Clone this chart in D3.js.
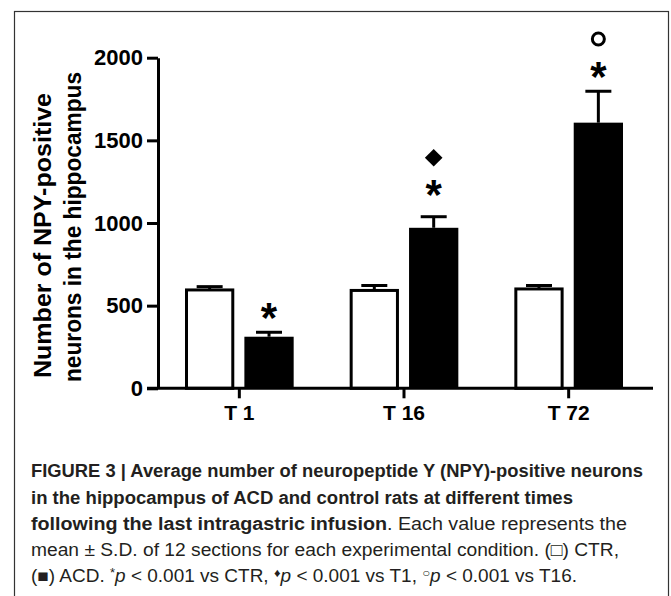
<!DOCTYPE html>
<html>
<head>
<meta charset="utf-8">
<style>
  body { margin: 0; background: #fff; }
  svg { display: block; }
</style>
</head>
<body>

<script src="https://d3js.org/d3.v7.min.js"></script>
<script>

const width = 671;
const height = 596;

// values
const groups = ['T 1', 'T 16', 'T 72'];
const series = ['CTR', 'ACD'];
const ctrMean = [595, 592, 601];
const ctrSD = [20, 30, 21];
const acdMean = [312, 971, 1607];
const acdSD = [27, 67, 190];
const yTicks = [0, 500, 1000, 1500, 2000];

// significance markers above the ACD bars (position in data units)
const marks = [
  {group: 'T 1', symbol: 'star', at: 480},
  {group: 'T 16', symbol: 'star', at: 1221},
  {group: 'T 16', symbol: 'diamond', at: 1395},
  {group: 'T 72', symbol: 'star', at: 1940},
  {group: 'T 72', symbol: 'circle', at: 2113}
];

const yTitle = ['Number of NPY-positive', 'neurons in the hippocampus'];

const rows = [];
groups.forEach((g, i) => {
  rows.push({group: g, series: 'CTR', mean: ctrMean[i], sd: ctrSD[i]});
  rows.push({group: g, series: 'ACD', mean: acdMean[i], sd: acdSD[i]});
});

const font = '"Liberation Sans", Arial, Helvetica, sans-serif';

const svg = d3.select('body')
              .append('svg')
              .attr('width', width)
              .attr('height', height)
              .style('font-family', font);

// frame
svg.append('rect')
   .attr('x', 14.5)
   .attr('y', 11.5)
   .attr('width', 654)
   .attr('height', 640)
   .attr('fill', 'none')
   .attr('stroke', '#333')
   .attr('stroke-width', 1.2);

const x0 = d3.scaleBand()
             .domain(groups)
             .range([157, 651]);

const x1 = d3.scaleBand()
             .domain(series)
             .range([28, x0.bandwidth() - 28])
             .paddingInner(0.17);

const y = d3.scaleLinear()
            .domain([0, 2000])
            .range([388.3, 57.7]);

const barX = d => x0(d.group) + x1(d.series);
const barMid = d => barX(d) + x1.bandwidth() / 2;

// error bars (upper half only)
const err = svg.append('g')
               .attr('stroke', '#000')
               .attr('stroke-width', 3);

err.selectAll('line.stem')
   .data(rows)
   .enter()
   .append('line')
   .attr('class', 'stem')
   .attr('x1', barMid)
   .attr('x2', barMid)
   .attr('y1', d => y(d.mean))
   .attr('y2', d => y(d.mean + d.sd));

err.selectAll('line.cap')
   .data(rows)
   .enter()
   .append('line')
   .attr('class', 'cap')
   .attr('x1', d => barMid(d) - 13)
   .attr('x2', d => barMid(d) + 13)
   .attr('y1', d => y(d.mean + d.sd))
   .attr('y2', d => y(d.mean + d.sd));

// bars
svg.selectAll('rect.bar')
   .data(rows)
   .enter()
   .append('rect')
   .attr('class', 'bar')
   .attr('x', d => d.series === 'CTR' ? barX(d) + 1.5 : barX(d))
   .attr('width', d => d.series === 'CTR' ? x1.bandwidth() - 3 : x1.bandwidth())
   .attr('y', d => y(d.mean))
   .attr('height', d => y(0) - y(d.mean))
   .attr('fill', d => d.series === 'CTR' ? '#fff' : '#000')
   .attr('stroke', d => d.series === 'CTR' ? '#000' : 'none')
   .attr('stroke-width', 3);

// y axis
const yAxis = svg.append('g')
                 .attr('transform', 'translate(158,0)')
                 .call(d3.axisLeft(y)
                         .tickValues(yTicks)
                         .tickFormat(d3.format('d'))
                         .tickSize(11)
                         .tickSizeOuter(0)
                         .tickPadding(4));

yAxis.select('.domain').attr('stroke-width', 3);
yAxis.selectAll('.tick line').attr('stroke-width', 3);
yAxis.selectAll('.tick text')
     .attr('fill', '#000')
     .style('font-family', font)
     .style('font-size', '22px')
     .style('font-weight', 'bold');

// x axis
const xAxis = svg.append('g')
                 .attr('transform', 'translate(0,388.3)')
                 .call(d3.axisBottom(x0)
                         .tickSize(10)
                         .tickSizeOuter(0)
                         .tickPadding(7));

xAxis.select('.domain').remove();
xAxis.append('line')
     .attr('x1', 147)
     .attr('x2', 653)
     .attr('stroke', '#000')
     .attr('stroke-width', 3);
xAxis.selectAll('.tick line').attr('stroke-width', 3);
xAxis.selectAll('.tick text')
     .attr('fill', '#000')
     .style('font-family', font)
     .style('font-size', '21px')
     .style('font-weight', 'bold');

// y axis title
const yt = svg.append('g')
              .attr('font-weight', 'bold')
              .attr('font-size', '23px')
              .attr('fill', '#000');

yt.append('text')
  .attr('transform', 'translate(51,378) rotate(-90)')
  .attr('textLength', 285)
  .attr('lengthAdjust', 'spacingAndGlyphs')
  .text(yTitle[0]);

yt.append('text')
  .attr('transform', 'translate(81,382) rotate(-90)')
  .attr('textLength', 310)
  .attr('lengthAdjust', 'spacingAndGlyphs')
  .text(yTitle[1]);

// significance markers
const markX = d => x0(d.group) + x1('ACD') + x1.bandwidth() / 2;

svg.selectAll('text.star')
   .data(marks.filter(d => d.symbol === 'star'))
   .enter()
   .append('text')
   .attr('class', 'star')
   .attr('x', markX)
   .attr('y', d => y(d.at) + 23)
   .attr('text-anchor', 'middle')
   .attr('font-size', '42px')
   .attr('font-weight', 'bold')
   .text('*');

svg.selectAll('path.diamond')
   .data(marks.filter(d => d.symbol === 'diamond'))
   .enter()
   .append('path')
   .attr('class', 'diamond')
   .attr('d', d3.symbol(d3.symbolSquare, 155))
   .attr('transform', d => `translate(${markX(d)},${y(d.at)}) rotate(45)`)
   .attr('fill', '#000');

svg.selectAll('circle.ring')
   .data(marks.filter(d => d.symbol === 'circle'))
   .enter()
   .append('circle')
   .attr('class', 'ring')
   .attr('cx', markX)
   .attr('cy', d => y(d.at))
   .attr('r', 6)
   .attr('fill', 'none')
   .attr('stroke', '#000')
   .attr('stroke-width', 3);

// caption
const cap = svg.append('g')
               .attr('font-size', '17.5px')
               .attr('fill', '#231f20');

const capLines = [
  {y: 477, len: 612, parts: [['b', 'FIGURE 3 | Average number of neuropeptide Y (NPY)-positive neurons']]},
  {y: 503.5, len: 542, parts: [['b', 'in the hippocampus of ACD and control rats at different times']]},
  {y: 530, len: 596, parts: [['b', 'following the last intragastric infusion'], ['r', '. Each value represents the']]},
  {y: 556, len: 588, parts: [['r', 'mean \u00b1 S.D. of 12 sections for each experimental condition. (\u25a1) CTR,']]},
  {y: 582, len: 546, parts: [
    ['r', '(\u25a0) ACD. '], ['s', '*'], ['i', 'p'], ['r', ' < 0.001 vs CTR, '],
    ['s', '\u2666'], ['i', 'p'], ['r', ' < 0.001 vs T1, '],
    ['s', '\u25cb'], ['i', 'p'], ['r', ' < 0.001 vs T16.']
  ]}
];

capLines.forEach(line => {
  const t = cap.append('text')
               .attr('x', 31)
               .attr('y', line.y)
               .attr('textLength', line.len)
               .attr('lengthAdjust', 'spacingAndGlyphs');
  line.parts.forEach(p => {
    const s = t.append('tspan').text(p[1]);
    if (p[0] === 'b') s.attr('font-weight', 'bold');
    if (p[0] === 'i') s.attr('font-style', 'italic');
    if (p[0] === 's') s.attr('font-size', '12px').attr('baseline-shift', '45%');
  });
});

</script>
</body>
</html>
